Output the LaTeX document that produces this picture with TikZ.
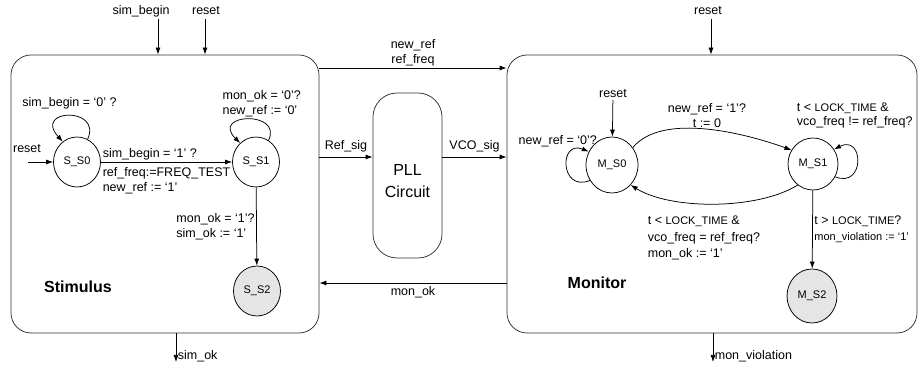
\documentclass[tikz,border=0pt]{standalone}
\usepackage{fontspec}
\setmainfont{Liberation Sans}
\usetikzlibrary{arrows.meta,shapes.geometric,positioning}

\newcommand{\smalltxt}{\fontsize{11}{13}\selectfont}

\tikzset{
	block/.style={draw=black!80, rounded corners=20pt},
	state/.style={draw, ellipse, inner sep=0pt, minimum width=47pt, minimum height=50pt, font=\smalltxt},
	final/.style={state, fill=black!10},
	title/.style={font=\fontsize{16}{19}\selectfont\bfseries},
}

\begin{document}
\begin{tikzpicture}[x=1pt, y=1pt, line width=0.75pt, >={Latex[length=7pt,width=5pt]},
	every node/.style={font=\fontsize{12.5}{15}\selectfont, inner sep=1.5pt}]
	\useasboundingbox (0,0) rectangle (919,375);
	% blocks
	\node [block, minimum width=308pt, minimum height=278pt] (stim) at (165,181) {};
	\node [block, minimum width=410pt, minimum height=278pt] (mon) at (712,181) {};
	\node [block, rounded corners=24pt, minimum width=69pt, minimum height=165pt] (pll) at (407.5,199.5) {};
	\node [align=center, font=\fontsize{16}{22}\selectfont] (pllt) at ([yshift=-6pt]pll.center) {PLL\\Circuit};
	% signals between the blocks
	\coordinate (nr) at (0,307);
	\coordinate (rs) at (0,218);
	\coordinate (mo) at (0,92);
	\draw [->] (stim.east |- nr) -- node [above, align=center] {new\_ref\\ref\_freq} (mon.west |- nr);
	\draw [->] (stim.east |- rs) -- node [above=3pt] {Ref\_sig} (pll.west |- rs);
	\draw [->] (pll.east |- rs) -- node [above=3pt] {VCO\_sig} (mon.west |- rs);
	\draw [->] (mon.west |- mo) -- node [below=2pt] {mon\_ok} (stim.east |- mo);
	% inputs and outputs
	\node (sb) at (141,364) {sim\_begin};
	\node (rst) at (206,364) {reset};
	\node (rsm) at (708,364) {reset};
	\coordinate (sbx) at (158,356);
	\coordinate (rstx) at (205,356);
	\coordinate (rsmx) at (711,356);
	\draw [->] (sbx) -- (stim.north -| sbx);
	\draw [->] (rstx) -- (stim.north -| rstx);
	\draw [->] (rsmx) -- (mon.north -| rsmx);
	\coordinate (sok) at (176,13);
	\coordinate (mvi) at (713,13);
	\draw [->] (stim.south -| sok) -- node [pos=0.8, right] {sim\_ok} (sok);
	\draw [->] (mon.south -| mvi) -- node [pos=0.8, right] {mon\_violation} (mvi);
	% stimulus
	\node [state] (s0) at (77,213) {S\_S0};
	\node [state] (s1) at (256,213) {S\_S1};
	\node [final] (s2) at (257,84) {S\_S2};
	\node [title] (stl) at (78,88) {Stimulus};
	\node (rs0) at (27,226) {reset};
	\coordinate (rs0x) at (28,213);
	\draw [->] (rs0x) -- (s0);
	\draw [->] (s0.65) .. controls +(15,33) and +(-30,33) .. node [above=5pt] {sim\_begin = ‘0’ ?} (s0.125);
	\draw [->] (s0) -- node [pos=0, above right] {sim\_begin = ‘1’ ?}
		node [pos=0, below right, yshift=-4pt, align=left] {ref\_freq:=FREQ\_TEST\\new\_ref := ‘1’} (s1);
	\draw [->] (s1.60) .. controls +(15,30) and +(-30,30) .. node [above, xshift=13pt, align=left] {mon\_ok = ‘0’?\\new\_ref := ‘0’} (s1.130);
	\draw [->] (s1) -- node [left, align=left] {mon\_ok = ‘1’?\\sim\_ok := ‘1’} (s2);
	% monitor
	\node [state, minimum width=52pt, minimum height=56pt] (m0) at (612,210) {M\_S0};
	\node [state, minimum width=50pt, minimum height=52pt] (m1) at (813,211) {M\_S1};
	\node [final, minimum width=50pt, minimum height=54pt] (m2) at (812,79) {M\_S2};
	\node [title] (mtl) at (597,92) {Monitor};
	\node (rm0) at (613,281) {reset};
	\draw [->] (rm0) -- (m0);
	\draw [->] (m0.215) .. controls +(-30,-12) and +(-30,12) .. node [pos=1, above left, xshift=10pt, yshift=3pt] {new\_ref = ‘0’?} (m0.150);
	\draw [->] (m0.40) .. controls +(30,36) and +(-44,16) .. node [above, align=center] {new\_ref = ‘1’?\\t := 0} (m1.147);
	\draw [->] (m1.234) .. controls +(-40,-25) and +(40,-25) .. (m0.313);
	\node [anchor=north west, align=left, font=\fontsize{12.5}{16.5}\selectfont] (bkl) at (646,161)
		{t < {\smalltxt LOCK\_TIME} \&\\vco\_freq = ref\_freq?\\mon\_ok := ‘1’};
	\draw [->] (m1.-30) .. controls +(30,-12) and +(30,15) .. (m1.35);
	\node [anchor=south west, align=left, font=\fontsize{12.5}{14}\selectfont] (lkl) at (795,245)
		{t < {\smalltxt LOCK\_TIME} \&\\vco\_freq != ref\_freq?};
	\draw [->] (m1) -- node [right, align=left, font=\fontsize{12.5}{16}\selectfont] {t > {\smalltxt LOCK\_TIME}?\\{\smalltxt mon\_violation := ‘1’}} (m2);
\end{tikzpicture}
\end{document}
